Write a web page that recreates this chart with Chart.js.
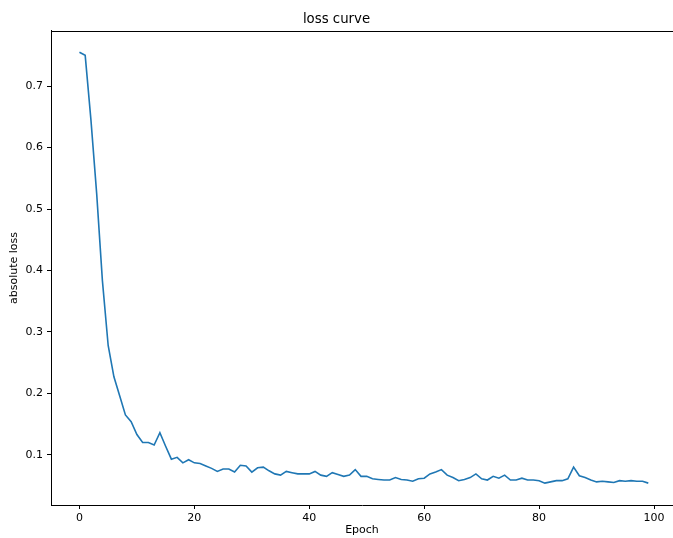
<!DOCTYPE html>
<html>
<head>
<meta charset="utf-8">
<script src="https://cdn.jsdelivr.net/npm/chart.js@4/dist/chart.umd.min.js"></script>
<style>
html,body{margin:0;padding:0;background:#fff;overflow:hidden;width:673px;height:538px;}
canvas{display:block;}
</style>
</head>
<body>
<canvas id="c" width="673" height="538"></canvas>
<script>
const epochs = Array.from({length: 100}, (_, i) => i);
const lossValues = [
  0.755, 0.750, 0.645, 0.525, 0.383, 0.278, 0.227, 0.196, 0.165, 0.154,
  0.133, 0.120, 0.120, 0.116, 0.136, 0.114, 0.093, 0.096, 0.087, 0.092,
  0.087, 0.086, 0.082, 0.078, 0.073, 0.077, 0.077, 0.072, 0.083, 0.082,
  0.072, 0.079, 0.080, 0.074, 0.069, 0.067, 0.073, 0.071, 0.069, 0.069,
  0.069, 0.073, 0.067, 0.065, 0.071, 0.068, 0.065, 0.067, 0.076, 0.065,
  0.065, 0.061, 0.060, 0.059, 0.059, 0.063, 0.060, 0.059, 0.057, 0.061,
  0.062, 0.069, 0.072, 0.076, 0.067, 0.063, 0.058, 0.060, 0.063, 0.069,
  0.061, 0.059, 0.065, 0.062, 0.067, 0.059, 0.059, 0.062, 0.059, 0.059,
  0.058, 0.054, 0.056, 0.058, 0.058, 0.061, 0.080, 0.066, 0.063, 0.059,
  0.056, 0.057, 0.056, 0.055, 0.058, 0.057, 0.058, 0.057, 0.057, 0.054
];
const xTickLabels = [0, 20, 40, 60, 80, 100];
const yTickLabels = [0.1, 0.2, 0.3, 0.4, 0.5, 0.6, 0.7];
const titleText = 'loss curve';
const xTitle = 'Epoch';
const yTitle = 'absolute loss';

const FONT = "'DejaVu Sans', sans-serif";

const topSpine = {
  id: 'topSpine',
  afterDatasetsDraw(chart) {
    const a = chart.chartArea, ctx = chart.ctx;
    ctx.save();
    ctx.strokeStyle = '#000';
    ctx.lineWidth = 1;
    ctx.beginPath();
    const y = Math.round(a.top) + 0.5;
    ctx.moveTo(a.left, y);
    ctx.lineTo(chart.width, y);
    ctx.stroke();
    ctx.restore();
  }
};

new Chart(document.getElementById('c'), {
  type: 'line',
  data: {
    datasets: [{
      data: epochs.map((e, i) => ({x: e, y: lossValues[i]})),
      borderColor: '#1f77b4',
      borderWidth: 1.6,
      pointRadius: 0,
      tension: 0,
      fill: false
    }]
  },
  options: {
    responsive: false,
    devicePixelRatio: 1,
    animation: false,
    layout: {padding: {left: 0, right: 0, top: 0, bottom: 0}},
    plugins: {
      legend: {display: false},
      tooltip: {enabled: false},
      title: {
        display: true,
        text: titleText,
        color: '#000',
        font: {family: FONT, size: 13.3, weight: 'normal', lineHeight: 1.2},
        padding: {top: 12, bottom: 3}
      }
    },
    scales: {
      x: {
        type: 'linear',
        min: -4.95,
        max: 103.3,
        afterBuildTicks: ax => { ax.ticks = xTickLabels.map(v => ({value: v})); },
        afterFit: ax => { ax.height = 33; },
        ticks: {
          color: '#000',
          font: {family: FONT, size: 11},
          padding: 3,
          maxRotation: 0,
          autoSkip: false,
          callback: v => String(v)
        },
        grid: {display: true, drawOnChartArea: false, drawTicks: true, tickLength: 4, tickColor: '#000', tickWidth: 1},
        border: {display: true, color: '#000', width: 1},
        title: {
          display: true,
          text: xTitle,
          color: '#000',
          font: {family: FONT, size: 11, lineHeight: 1.2},
          padding: {top: 0, bottom: 1}
        }
      },
      y: {
        type: 'linear',
        min: 0.0184,
        max: 0.7897,
        afterBuildTicks: ax => { ax.ticks = yTickLabels.map(v => ({value: v})); },
        afterFit: ax => { ax.width = 51; },
        ticks: {
          color: '#000',
          font: {family: FONT, size: 11},
          padding: 4,
          autoSkip: false,
          callback: v => Number(v).toFixed(1)
        },
        grid: {display: true, drawOnChartArea: false, drawTicks: true, tickLength: 4, tickColor: '#000', tickWidth: 1},
        border: {display: true, color: '#000', width: 1},
        title: {
          display: true,
          text: yTitle,
          color: '#000',
          font: {family: FONT, size: 11, lineHeight: 1.2},
          padding: {top: 8, bottom: 0}
        }
      }
    }
  },
  plugins: [topSpine]
});
</script>
</body>
</html>
